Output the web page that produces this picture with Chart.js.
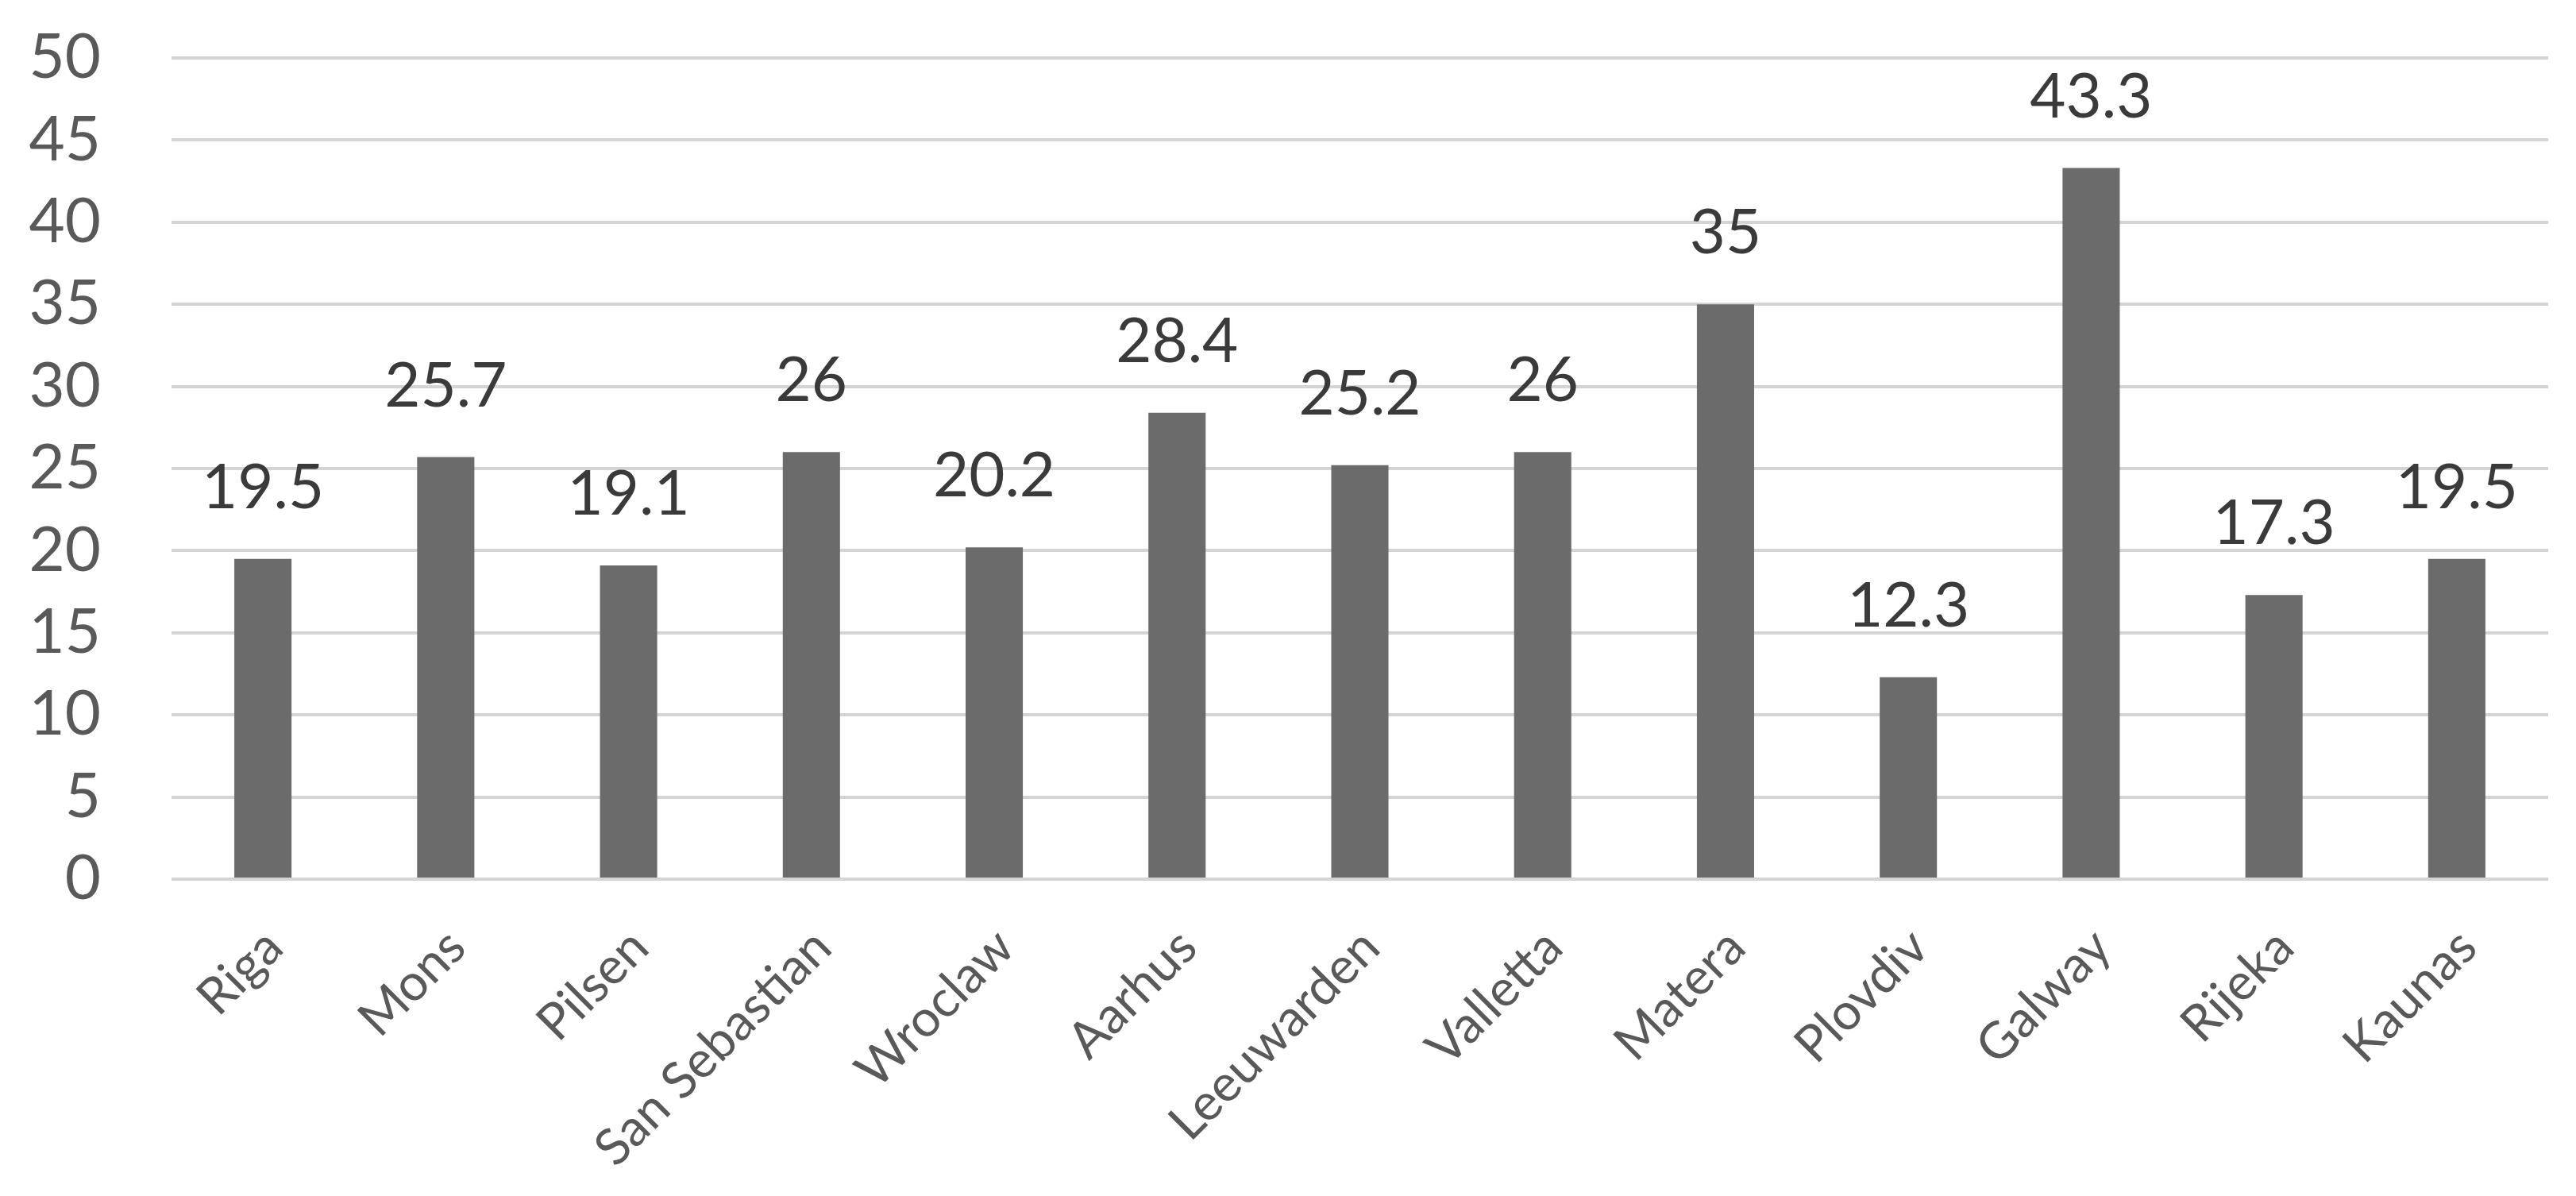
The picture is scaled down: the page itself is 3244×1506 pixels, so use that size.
<!DOCTYPE html>
<html>
<head>
<meta charset="utf-8">
<script src="https://cdn.jsdelivr.net/npm/chart.js@4/dist/chart.umd.min.js"></script>
<style>
html,body{margin:0;padding:0;background:#fff;}
#wrap{width:3244px;height:1506px;}
</style>
</head>
<body>
<div id="wrap"><canvas id="c" width="3244" height="1506"></canvas></div>
<script>
const categories = ["Riga","Mons","Pilsen","San Sebastian","Wroclaw","Aarhus","Leeuwarden","Valletta","Matera","Plovdiv","Galway","Rijeka","Kaunas"];
const values = [19.5,25.7,19.1,26,20.2,28.4,25.2,26,35,12.3,43.3,17.3,19.5];
const valueLabels = ["19.5","25.7","19.1","26","20.2","28.4","25.2","26","35","12.3","43.3","17.3","19.5"];
const yTicks = [0,5,10,15,20,25,30,35,40,45,50];

const labelPlugin = {
  id: 'valueLabels',
  afterDatasetsDraw(chart) {
    const ctx = chart.ctx;
    const meta = chart.getDatasetMeta(0);
    ctx.save();
    ctx.font = '78px Lato';
    ctx.fillStyle = '#3a3a3a';
    ctx.textAlign = 'center';
    ctx.textBaseline = 'alphabetic';
    meta.data.forEach((bar, i) => {
      ctx.fillText(valueLabels[i], bar.x, bar.y - 64);
    });
    ctx.restore();
  }
};

new Chart(document.getElementById('c'), {
  type: 'bar',
  data: {
    labels: categories,
    datasets: [{
      data: values,
      backgroundColor: '#6b6b6b',
      borderWidth: 0,
      barPercentage: 0.313,
      categoryPercentage: 1.0
    }]
  },
  options: {
    responsive: false,
    animation: false,
    devicePixelRatio: 1,
    layout: { padding: { left: 0, right: 35, top: 73, bottom: 0 } },
    plugins: { legend: { display: false }, tooltip: { enabled: false } },
    scales: {
      x: {
        grid: { display: false, drawTicks: false },
        border: { display: false },
        ticks: {
          font: { family: 'Lato', size: 64 },
          color: '#595959',
          minRotation: 45,
          maxRotation: 45,
          padding: 48,
          labelOffset: 14,
          autoSkip: false
        },
        afterFit(scale) {
          scale.height = 399;
          scale.paddingLeft = 0;
          scale.paddingRight = 0;
        }
      },
      y: {
        min: 0,
        max: 50,
        afterBuildTicks(scale) {
          scale.ticks = yTicks.map(v => ({ value: v }));
        },
        grid: { color: '#d4d4d4', lineWidth: 4, drawTicks: false },
        border: { display: false },
        ticks: {
          font: { family: 'Lato', size: 78 },
          color: '#595959',
          padding: 89
        },
        afterFit(scale) {
          scale.width = 216;
          scale.paddingTop = 0;
          scale.paddingBottom = 0;
        }
      }
    }
  },
  plugins: [labelPlugin]
});
</script>
</body>
</html>
